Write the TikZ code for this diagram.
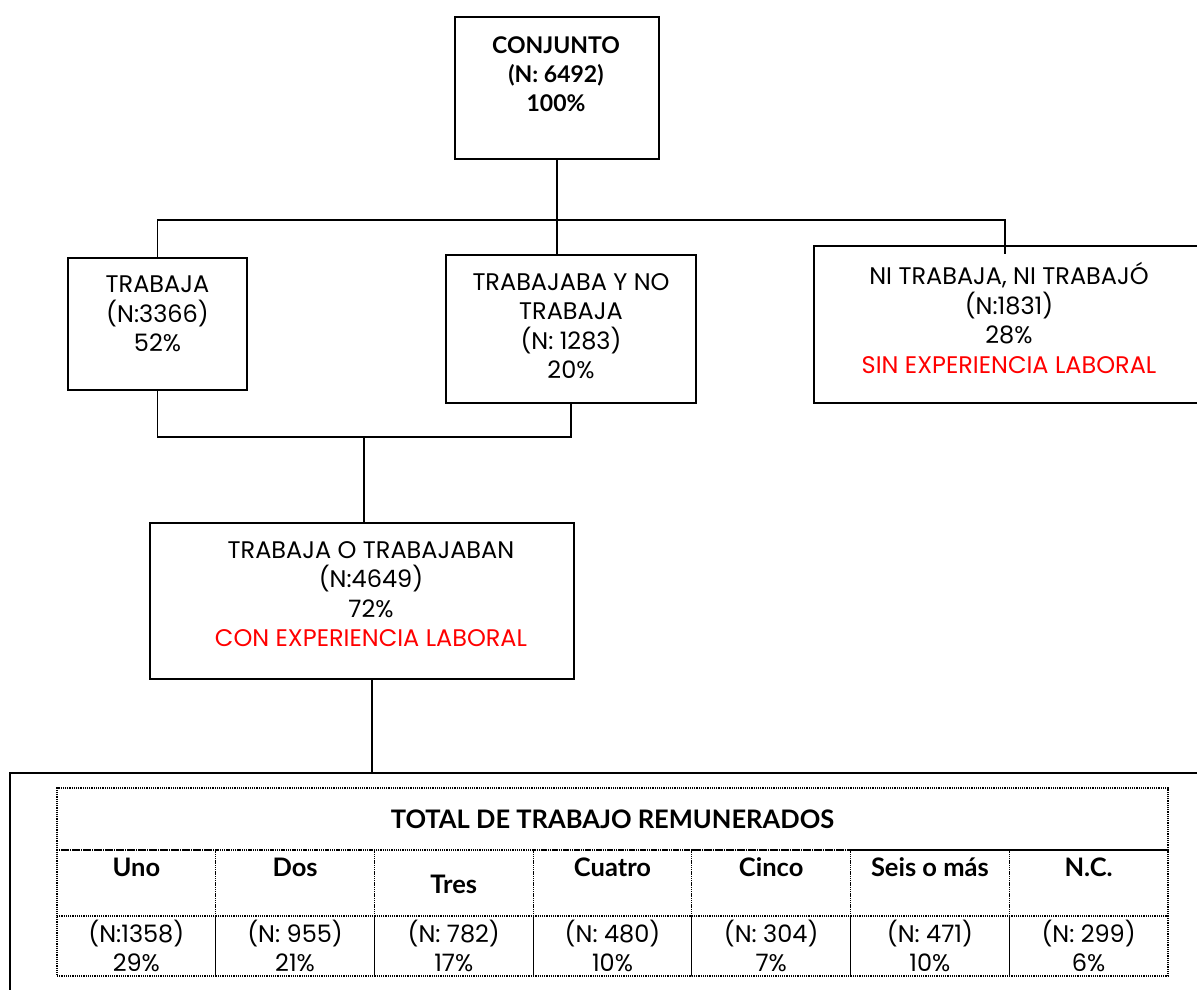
\documentclass[tikz,border=0pt]{standalone}
\usepackage{fontspec}
\setmainfont{Poppins}
\newfontfamily\boldfont{Lato}
\usetikzlibrary{positioning}

\tikzset{
	box/.style={draw, line width=1.5pt, inner sep=0pt},
	txt/.style={align=center, font=\fontsize{24}{29.5}\selectfont},
	hd/.style={align=center, font=\boldfont\bfseries\fontsize{23}{29}\selectfont},
	hdtab/.style={align=center, font=\boldfont\bfseries\fontsize{25.5}{29}\selectfont},
	cell/.style={draw, densely dotted, line width=1.2pt, inner sep=0pt, minimum width=158.7pt},
	link/.style={line width=1.5pt}
}

\begin{document}
\begin{tikzpicture}[x=1pt, y=-1pt]
	\clip (0,0) rectangle (1197,990);
	\useasboundingbox (0,0) rectangle (1197,990);
	% boxes of the tree
	\node[box, minimum width=204pt, minimum height=142pt] (conj) at (557,88) {};
	\node[box, minimum width=179pt, minimum height=132pt] (trab) at (157.5,324) {};
	\node[box, minimum width=250pt, minimum height=148pt] (tno) at (571,329) {};
	\node[box, minimum width=400pt, minimum height=157pt] (ni) at (1014,324.5) {};
	\node[box, minimum width=424pt, minimum height=156pt] (tot) at (362,601) {};
	\node[box, minimum width=1220pt, minimum height=260pt] (marco) at (620,903) {};
	% texts
	\node[hd] (conjt) at (556,74) {CONJUNTO\\(N: 6492)\\100\%};
	\node[txt] (trabt) at (157.5,314) {TRABAJA\\(N:3366)\\52\%};
	\node[txt] (tnot) at (571,326) {TRABAJABA Y NO\\TRABAJA\\(N: 1283)\\20\%};
	\node[txt] (nit) at (1009,318) {NI TRABAJA, NI TRABAJÓ\\(N:1831)\\28\%\\\textcolor{red}{SIN EXPERIENCIA LABORAL}};
	\node[txt] (tott) at (371,594) {TRABAJA O TRABAJABAN\\(N:4649)\\72\%\\\textcolor{red}{CON EXPERIENCIA LABORAL}};
	% connectors
	\coordinate (bus) at (557,220);
	\coordinate (nitop) at (1005,254);
	\coordinate (join) at (364,437);
	\coordinate (down) at (372,773);
	\draw[link] (conj.south) -- (conj.south |- tno.north);
	\draw[link] (trab.north) -- (trab.north |- bus) -- (nitop |- bus) -- (nitop);
	\draw[link] (trab.south) -- (trab.south |- join) -- (tno.south |- join) -- (tno.south);
	\draw[link] (join) -- (join |- tot.north);
	\draw[link] (tot.south -| down) -- (down);
	% table
	\node[cell, minimum width=1111pt, minimum height=62pt, hdtab] (head) at (612.5,819) {TOTAL DE TRABAJO REMUNERADOS};
	\foreach \name/\lab/\n/\p [count=\i] in {uno/Uno/(N:1358)/29\%, dos/Dos/(N: 955)/21\%, tres/Tres/(N: 782)/17\%, cuatro/Cuatro/(N: 480)/10\%, cinco/Cinco/(N: 304)/7\%, seis/Seis o más/(N: 471)/10\%, nc/N.C./(N: 299)/6\%}{
		\node[cell, minimum height=66pt] (\name) at ({57+158.71*(\i-0.5)},883) {};
		\node[cell, minimum height=60pt] (\name v) at ({57+158.71*(\i-0.5)},946) {};
		\node[txt] (\name n) at (\name v) {\n\\\p};
	}
	\foreach \name/\lab in {uno/Uno, dos/Dos, cuatro/Cuatro, cinco/Cinco, seis/Seis o más, nc/N.C.}
		\node[hdtab] (\name t) at ([yshift=16pt]\name) {\lab};
	\node[hdtab] (trest) at ([yshift=-1pt]tres) {Tres};
\end{tikzpicture}
\end{document}
